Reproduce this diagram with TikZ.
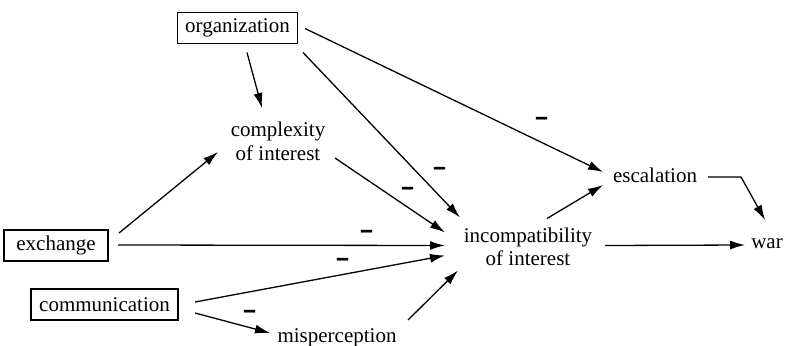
\documentclass[tikz,border=0pt]{standalone}
\usepackage{fontspec}
\usepackage{graphicx}
\setmainfont{Liberation Serif}
\usetikzlibrary{arrows.meta,calc}
\tikzset{
  lbl/.style={inner sep=0pt, anchor=base, font=\fontsize{21}{23.5}\selectfont, align=center},
  boxed/.style={draw, line width=1.2pt, inner sep=0pt, font=\fontsize{21}{24}\selectfont, minimum height=31pt},
  arr/.style={line width=1.3pt, -{Latex[length=15pt,width=9pt]}},
  minus/.style={inner sep=0pt, font=\fontsize{21}{24}\selectfont\bfseries}
}
\newcommand{\minusbar}{\scalebox{1.05}[1.8]{–}}
\begin{document}
\begin{tikzpicture}[x=1pt,y=-1pt]
\useasboundingbox (0,0) rectangle (791,345);
% nodes
\node[boxed, minimum width=120pt] (org) at (237.5,28) {organization};
\node[boxed, minimum width=104pt] (exch) at (56,245.5) {exchange};
\node[boxed, minimum width=147pt] (comm) at (104.5,304.5) {communication};
\node[lbl] (cplx) at (278,160) {complexity\\of interest};
\node[lbl] (inc) at (528,265.5) {incompatibility\\of interest};
\node[lbl] (esc) at (655,182) {escalation};
\node[lbl] (war) at (767,248) {war};
\node[lbl] (mis) at (337,342) {misperception};
% connectors
\draw[arr] ($(org.center)+(9.5,24.5)$) -- ($(cplx.base)+(-16,-52)$);
\draw[arr] ($(org.center)+(65.5,24.5)$) -- ($(inc.base)+(-68,-48)$);
\draw[arr] ($(org.center)+(67.5,0.5)$) -- ($(esc.base)+(-52,-10)$);
\draw[arr] ($(cplx.base)+(57,-2)$) -- ($(inc.base)+(-83,-33)$);
\draw[arr] ($(exch.center)+(63,-12.5)$) -- ($(cplx.base)+(-60,-8)$);
\draw[arr] ($(exch.center)+(62,-0.5)$) -- ($(inc.base)+(-83,-20)$);
\draw[arr] ($(comm.center)+(90.5,-2.5)$) -- ($(inc.base)+(-83,-10)$);
\draw[arr] ($(comm.center)+(90.5,8.5)$) -- ($(mis.base)+(-67,-9)$);
\draw[arr] ($(mis.base)+(71,-22)$) -- ($(inc.base)+(-70,5)$);
\draw[arr] ($(inc.base)+(19,-47)$) -- ($(esc.base)+(-52,3)$);
\draw[arr] ($(inc.base)+(77,-20)$) -- ($(war.base)+(-22,-3)$);
\draw[arr] ($(esc.base)+(53,-5)$) -- ($(esc.base)+(86,-5)$) -- ($(war.base)+(-2,-28)$);
% minus signs
\node[minus] (m1) at (542.5,122.5) {\minusbar};
\node[minus] (m2) at (440,172) {\minusbar};
\node[minus] (m3) at (408,192) {\minusbar};
\node[minus] (m4) at (367,235) {\minusbar};
\node[minus] (m5) at (343,263) {\minusbar};
\node[minus] (m6) at (250.5,315) {\minusbar};
\end{tikzpicture}
\end{document}
